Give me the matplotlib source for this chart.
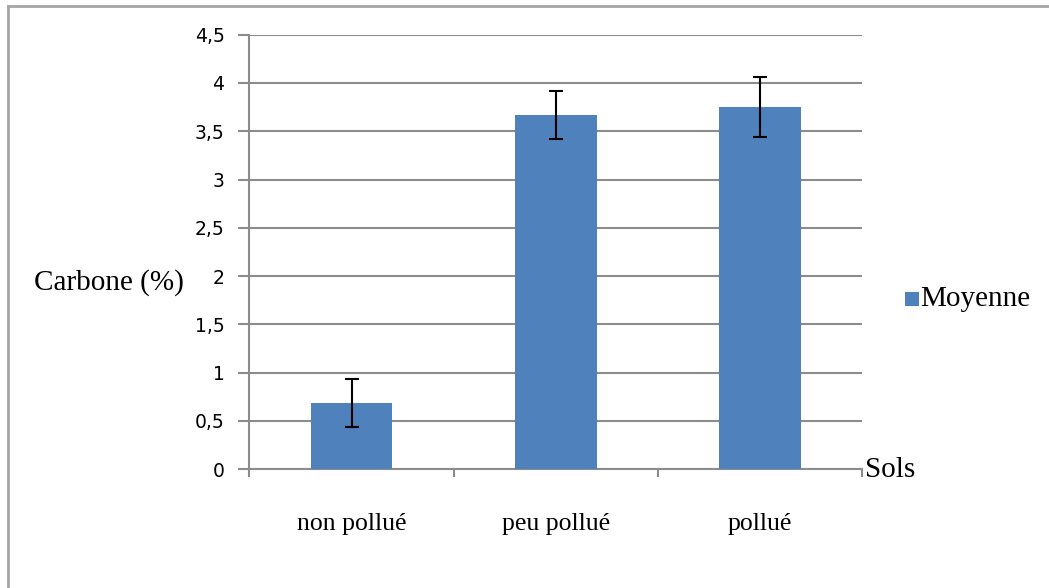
import matplotlib.pyplot as plt
from matplotlib.lines import Line2D
from matplotlib.patches import Rectangle

# data
categories = ['non pollué', 'peu pollué', 'pollué']
moyenne = [0.69, 3.67, 3.75]
erreur = [0.25, 0.25, 0.31]
yticks = [0, 0.5, 1, 1.5, 2, 2.5, 3, 3.5, 4, 4.5]
ytick_labels = ['0', '0,5', '1', '1,5', '2', '2,5', '3', '3,5', '4', '4,5']

bar_color = '#4F81BD'
grid_color = '#8c8c8c'
serif = ['Liberation Serif', 'DejaVu Serif']
W, H = 1049, 588

fig = plt.figure(figsize=(W / 100, H / 100), dpi=100)
ax = fig.add_axes([0.2378, 0.2019, 0.8217 - 0.2378, 0.941 - 0.2019])

x = list(range(len(categories)))
ax.bar(x, moyenne, width=0.40, color=bar_color, zorder=3)
ax.errorbar(x, moyenne, yerr=erreur, fmt='none', ecolor='black',
            elinewidth=1.5, capsize=5, capthick=1.5, zorder=4)

ax.set_xlim(-0.5, len(categories) - 0.5)
ax.set_ylim(0, 4.5)
ax.set_yticks(yticks)
ax.set_yticklabels(ytick_labels, fontsize=13.5, family='DejaVu Sans')
ax.yaxis.grid(True, color=grid_color, linewidth=1.5, zorder=0)
ax.tick_params(axis='y', length=8, width=1.5, color=grid_color, pad=10)

# category boundaries carry the x ticks, labels sit in between
ax.set_xticks([-0.5, 0.5, 1.5, 2.5])
ax.set_xticklabels([])
ax.tick_params(axis='x', length=6, width=1.5, color=grid_color)
for xi, c in zip(x, categories):
    ax.text(xi, -0.57, c, ha='center', va='center', fontsize=18.5,
            family=serif, transform=ax.transData)

for s in ['top', 'right']:
    ax.spines[s].set_visible(False)
for s in ['left', 'bottom']:
    ax.spines[s].set_color(grid_color)
    ax.spines[s].set_linewidth(1.5)

fig.text(184 / W, 1 - 283 / H, 'Carbone (%)', ha='right', va='center',
         fontsize=21, family=serif)
fig.text(865 / W, 1 - 470 / H, 'Sols', ha='left', va='center',
         fontsize=21, family=serif)

# legend: small square + label, placed by hand like the original
fig.add_artist(Rectangle((905 / W, 1 - 306 / H), 14 / W, 14 / H,
                         facecolor=bar_color, edgecolor='none',
                         transform=fig.transFigure))
fig.text(920 / W, 1 - 299 / H, 'Moyenne', ha='left', va='center',
         fontsize=21, family=serif)

# outer chart border
fig.add_artist(Line2D([8 / W, 1], [1 - 6 / H, 1 - 6 / H],
                      color='#a6a6a6', linewidth=2, transform=fig.transFigure))
fig.add_artist(Line2D([8 / W, 8 / W], [0, 1 - 6 / H],
                      color='#a6a6a6', linewidth=2, transform=fig.transFigure))

fig.savefig('out.png', dpi=100)
